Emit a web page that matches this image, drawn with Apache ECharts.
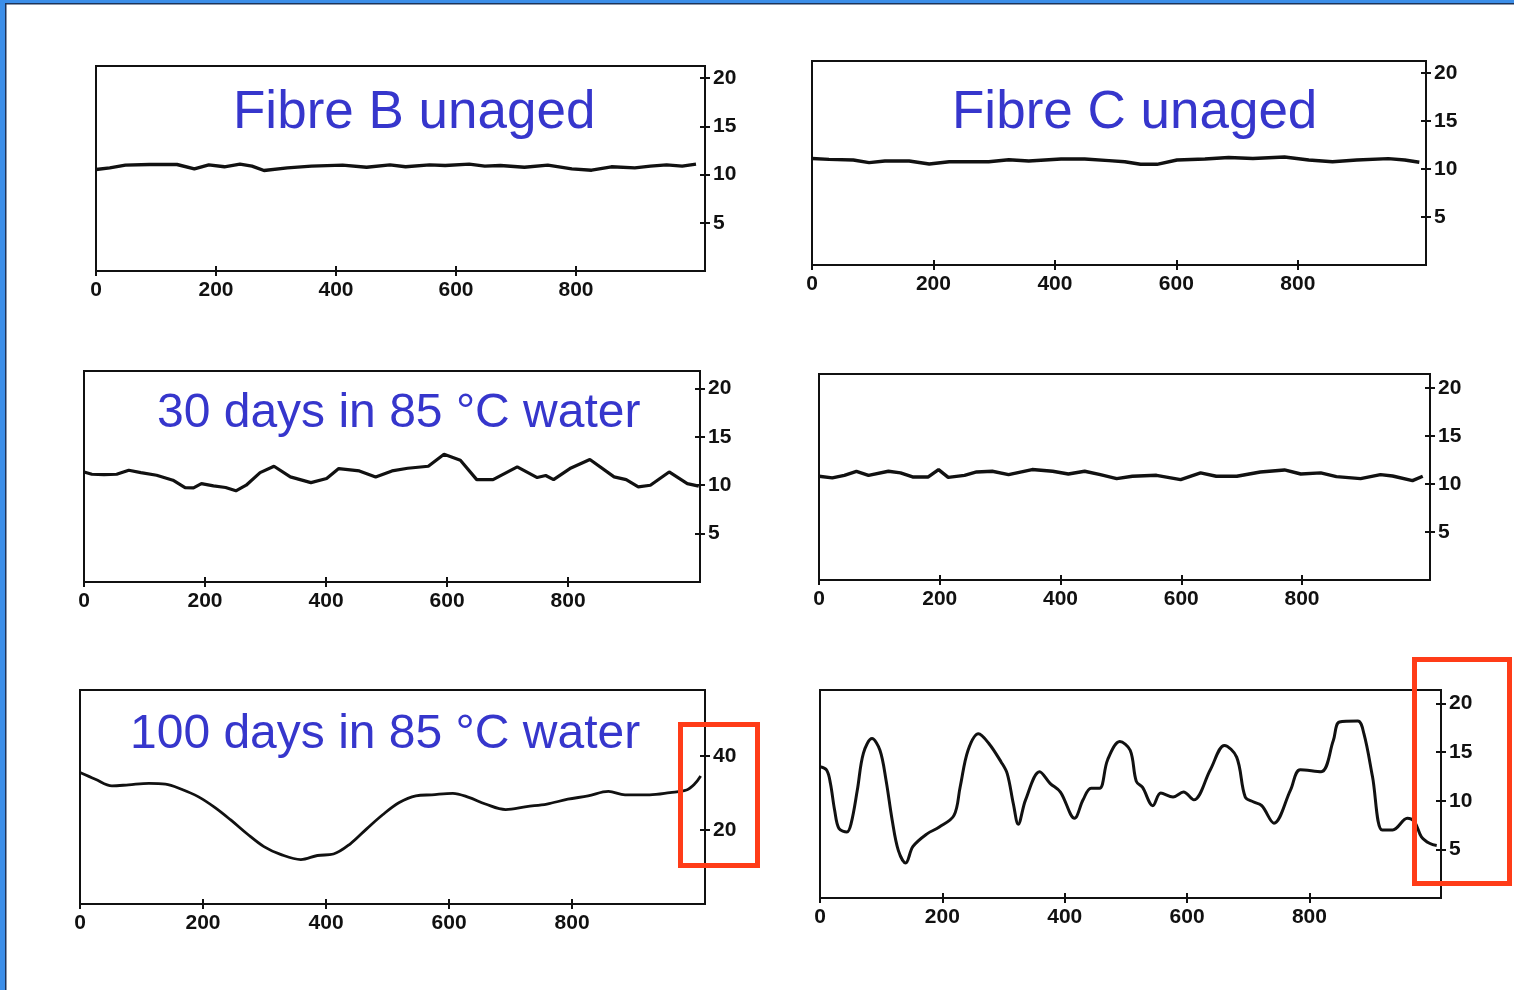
<!DOCTYPE html>
<html>
<head>
<meta charset="utf-8">
<script src="https://cdn.jsdelivr.net/npm/echarts@6/dist/echarts.min.js"></script>
<style>
html,body{margin:0;padding:0;background:#fff;}
#c{width:1514px;height:990px;}
</style>
</head>
<body>
<div id="c"></div>
<script>
// ---------- DATA ----------
const titles = ['Fibre B unaged', 'Fibre C unaged', '30 days in 85 °C water', '', '100 days in 85 °C water', ''];
const xTickLabels = [0, 200, 400, 600, 800];
const yTicksSmall = [5, 10, 15, 20];
const yTicksLarge = [20, 40];

// Fibre B unaged
const xB0 = [0,23,49,89,135,164,188,214,240,260,280,319,359,411,451,490,516,556,582,622,648,674,714,753,793,826,859,898,924,951,977,1000];
const yB0 = [10.52,10.69,10.97,11.04,11.04,10.59,11.0,10.8,11.08,10.87,10.42,10.69,10.87,10.97,10.76,11.0,10.8,11.0,10.94,11.08,10.87,10.94,10.76,10.97,10.59,10.45,10.8,10.69,10.87,11.0,10.87,11.08];

// Fibre C unaged
const xC0 = [0,28,68,94,120,160,193,226,291,324,357,410,449,489,515,541,568,601,647,686,726,778,818,857,897,949,976,1000];
const yC0 = [11.1,11.0,10.94,10.66,10.83,10.83,10.52,10.76,10.76,10.97,10.83,11.04,11.04,10.87,10.76,10.49,10.49,10.94,11.04,11.2,11.1,11.25,10.94,10.76,10.94,11.08,10.94,10.7];

// Fibre B, 30 days in 85 °C water
const xB30 = [0,13,33,54,74,94,120,147,167,181,194,214,234,251,268,291,314,341,375,401,421,455,482,509,535,569,595,622,649,676,716,749,763,776,803,836,876,896,916,936,967,997,1016];
const yB30 = [11.37,11.13,11.1,11.13,11.55,11.3,11.03,10.52,9.76,9.73,10.17,9.93,9.76,9.42,10.0,11.3,11.96,10.86,10.27,10.69,11.72,11.48,10.86,11.48,11.75,11.96,13.2,12.58,10.58,10.58,11.89,10.79,11.0,10.58,11.72,12.65,10.86,10.58,9.83,10.0,11.37,10.17,9.9];

// Fibre C, 30 days in 85 °C water
const xC30 = [0,22,42,62,82,115,135,155,181,198,214,241,261,287,314,353,387,413,440,466,493,519,559,599,632,658,692,731,771,798,831,857,897,930,950,983,1000];
const yC30 = [10.8,10.63,10.9,11.32,10.9,11.32,11.15,10.73,10.73,11.5,10.69,10.9,11.25,11.32,10.97,11.5,11.32,11.04,11.32,10.97,10.56,10.8,10.9,10.45,11.15,10.8,10.8,11.25,11.46,11.04,11.15,10.76,10.56,10.97,10.83,10.35,10.8];

// Fibre B, 100 days in 85 °C water
const xB100 = [0,25,52,79,112,139,165,192,219,245,272,299,326,359,386,412,439,466,492,519,546,572,606,632,659,692,726,759,793,826,859,886,926,959,986,999,1009];
const yB100 = [35.5,33.7,31.9,32.2,32.6,32.4,31.0,29.0,26.1,22.7,18.9,15.5,13.4,12.0,13.1,13.5,16.2,20.3,24.1,27.4,29.2,29.5,29.9,28.8,27.0,25.5,26.3,27.0,28.3,29.2,30.4,29.5,29.5,30.1,30.8,32.4,34.6];

// Fibre C, 100 days in 85 °C water
const xC100 = [0,11,17,24,31,44,51,61,71,85,98,108,118,128,140,152,175,195,219,229,242,259,276,296,306,316,324,336,359,376,393,416,430,443,457,470,490,507,517,527,544,557,577,594,611,638,661,681,695,708,722,742,769,785,819,839,849,879,889,903,919,936,960,972,983,997,1008];
const yC100 = [13.5,13.15,11.8,9.0,7.15,6.8,7.7,11.1,14.9,16.4,15.2,12.1,8.0,4.9,3.6,5.3,6.6,7.3,8.5,11.4,15.2,16.9,15.9,14.0,12.8,9.7,7.6,10.1,13.0,11.8,10.9,8.2,10.1,11.3,11.3,14.2,16.1,15.2,12.0,11.4,9.5,10.8,10.4,10.9,10.1,13.2,15.7,14.5,10.4,9.9,9.5,7.7,11.1,13.2,13.0,16.2,18.1,18.2,16.9,12.5,7.0,7.0,8.2,7.8,6.3,5.6,5.4];

// ---------- LAYOUT ----------
const panels = [
  {xs:xB0,  ys:yB0,  left:96,  top:66,  width:609, height:205, xMax:1015, yMax:21.25, yTicks:yTicksSmall, lw:3.4},
  {xs:xC0,  ys:yC0,  left:812, top:61,  width:614, height:204, xMax:1011, yMax:21.25, yTicks:yTicksSmall, lw:3.4},
  {xs:xB30, ys:yB30, left:84,  top:371, width:616, height:211, xMax:1018, yMax:21.8,  yTicks:yTicksSmall, lw:3.2},
  {xs:xC30, ys:yC30, left:819, top:374, width:611, height:206, xMax:1012, yMax:21.45, yTicks:yTicksSmall, lw:3.4},
  {xs:xB100,ys:yB100,left:80,  top:690, width:625, height:214, xMax:1016, yMax:57.8,  yTicks:yTicksLarge, lw:2.8},
  {xs:xC100,ys:yC100,left:820, top:690, width:621, height:208, xMax:1015, yMax:21.4,  yTicks:yTicksSmall, lw:3}
];

const labelFont = {fontFamily:'Liberation Sans, Arial, sans-serif', fontWeight:'bold', fontSize:21, color:'#111'};
const tickStyle = {color:'#111', width:2};
const hiddenLine = {show:false, onZero:false};
const grid = [], xAxis = [], yAxis = [], series = [];
panels.forEach((p, i) => {
  const g = grid.length;
  // main grid: frame, outward ticks, labels, line
  grid.push({left:p.left, top:p.top, width:p.width, height:p.height, show:true,
    borderColor:'#111', borderWidth:2, backgroundColor:'transparent'});
  // twin grid at the same place: inward half of the "+" ticks
  grid.push({left:p.left, top:p.top, width:p.width, height:p.height, show:false});

  xAxis.push({type:'value', gridIndex:g, min:0, max:p.xMax, position:'bottom',
    axisLine:hiddenLine, splitLine:{show:false},
    axisTick:{show:true, inside:false, length:5, lineStyle:tickStyle, customValues:xTickLabels},
    axisLabel:Object.assign({show:true, margin:9, customValues:xTickLabels}, labelFont)});
  xAxis.push({type:'value', gridIndex:g + 1, min:0, max:p.xMax, position:'bottom',
    axisLine:hiddenLine, splitLine:{show:false},
    axisTick:{show:true, inside:true, length:5, lineStyle:tickStyle, customValues:xTickLabels},
    axisLabel:{show:false}});
  yAxis.push({type:'value', gridIndex:g, min:0, max:p.yMax, position:'right',
    axisLine:hiddenLine, splitLine:{show:false},
    axisTick:{show:true, inside:false, length:5, lineStyle:tickStyle, customValues:p.yTicks},
    axisLabel:Object.assign({show:true, margin:8, customValues:p.yTicks}, labelFont)});
  yAxis.push({type:'value', gridIndex:g + 1, min:0, max:p.yMax, position:'right',
    axisLine:hiddenLine, splitLine:{show:false},
    axisTick:{show:true, inside:true, length:5, lineStyle:tickStyle, customValues:p.yTicks},
    axisLabel:{show:false}});
  series.push({type:'line', xAxisIndex:g, yAxisIndex:g, showSymbol:false, symbol:'none',
    smooth: i >= 4 ? 0.35 : false,
    lineStyle:{color:'#111', width:p.lw},
    data:p.xs.map((x, k) => [x, p.ys[k]])});
});

const titleStyle = (txt, x, y, size) => ({type:'text', x:x, y:y, z:50,
  style:{text:txt, fill:'#3636cc', font:size + 'px "Liberation Sans", Arial, sans-serif', textAlign:'left', textVerticalAlign:'middle'}});

const graphic = [
  // blue window border
  {type:'rect', shape:{x:0, y:0, width:5, height:990}, style:{fill:'#3b8ee9'}, z:60},
  {type:'rect', shape:{x:5, y:0, width:1.5, height:990}, style:{fill:'#1d3358'}, z:60},
  {type:'rect', shape:{x:0, y:0, width:1514, height:3}, style:{fill:'#3b8ee9'}, z:60},
  {type:'rect', shape:{x:5, y:3, width:1509, height:1.5}, style:{fill:'#1d3358'}, z:60},
  titleStyle(titles[0], 233, 113, 53),
  titleStyle(titles[1], 952, 113, 53),
  titleStyle(titles[2], 157, 414, 48),
  titleStyle(titles[4], 130, 735, 48),
  // red highlight boxes
  {type:'rect', shape:{x:680.5, y:724.5, width:77, height:141}, style:{fill:'none', stroke:'#ff3c18', lineWidth:5}, z:70},
  {type:'rect', shape:{x:1414.5, y:659.5, width:95, height:224}, style:{fill:'none', stroke:'#ff3c18', lineWidth:5}, z:70}
];

const chart = echarts.init(document.getElementById('c'), null, {renderer:'canvas'});
chart.setOption({backgroundColor:'#ffffff', animation:false, grid, xAxis, yAxis, series, graphic});
</script>
</body>
</html>
